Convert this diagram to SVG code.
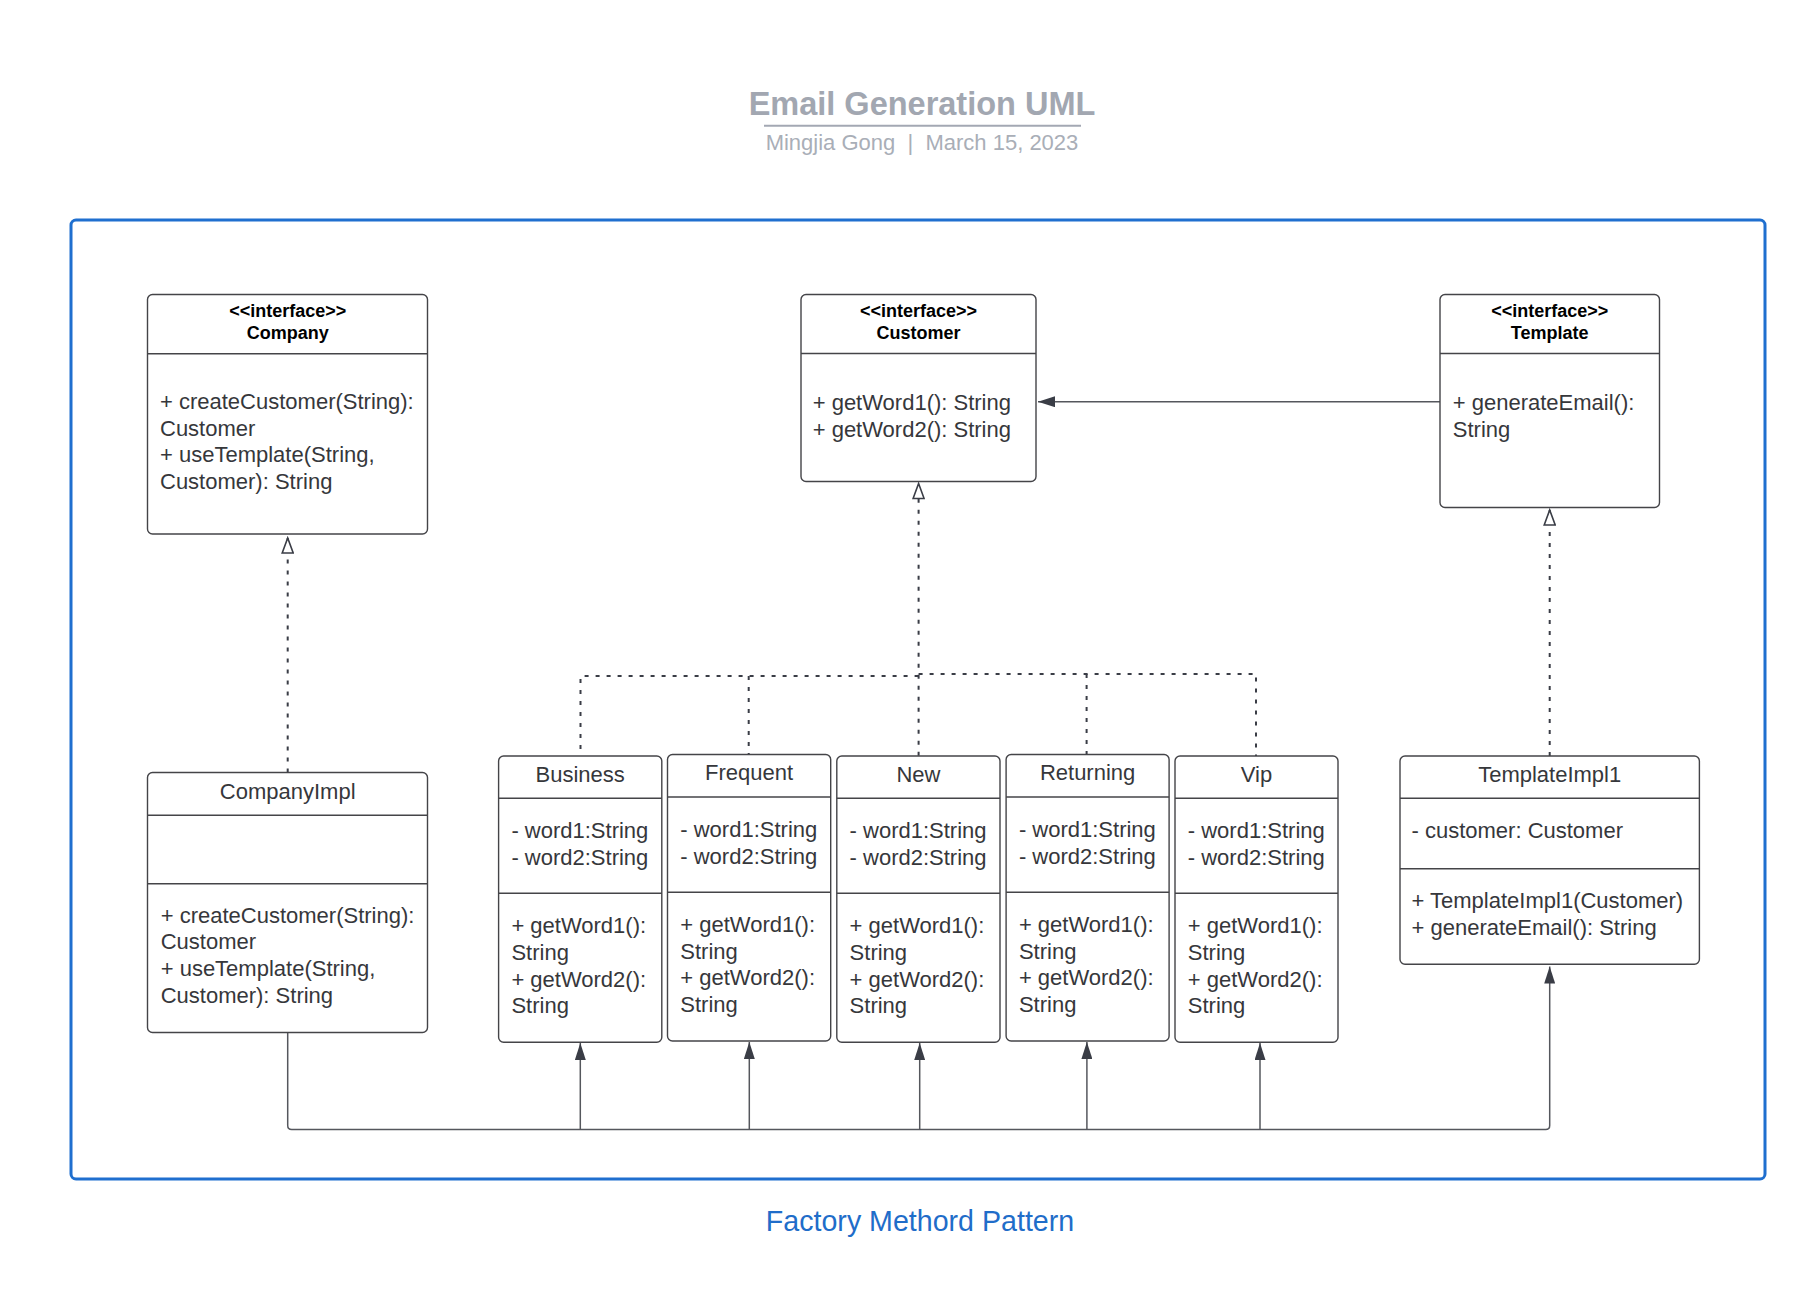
<svg xmlns="http://www.w3.org/2000/svg" width="1806" height="1296" viewBox="0 0 1806 1296">
<style>
.box{fill:#fff;stroke:#444448;stroke-width:1.4}
.sep{stroke:#444448;stroke-width:1.4}
.t{font-family:"Liberation Sans",Arial,sans-serif;font-size:22px;fill:#36373b}
.c{text-anchor:middle}
.h{font-family:"Liberation Sans",Arial,sans-serif;font-size:18px;font-weight:bold;fill:#000;text-anchor:middle}
.solid{fill:none;stroke:#55575d;stroke-width:1.5}
.dot{fill:none;stroke:#3a3d46;stroke-width:2;stroke-dasharray:4 7}
</style>
<defs>
<marker id="fa" viewBox="0 0 17 11" refX="17" refY="5.5" markerWidth="17" markerHeight="11" markerUnits="userSpaceOnUse" orient="auto"><path d="M0,0 L17,5.5 L0,11 Z" fill="#3a3d46"/></marker>
<marker id="ha" viewBox="-1 -1 18 13" refX="15" refY="5.5" markerWidth="18" markerHeight="13" markerUnits="userSpaceOnUse" orient="auto"><path d="M0,0 L15,5.5 L0,11 Z" fill="#fff" stroke="#3a3d46" stroke-width="1.6"/></marker>
</defs>
<rect width="1806" height="1296" fill="#fff"/>

<g id="title">
<text x="922" y="115" text-anchor="middle" font-family="Liberation Sans, Arial, sans-serif" font-size="32.5" font-weight="bold" fill="#a2a7b1">Email Generation UML</text>
<line x1="764" y1="125.7" x2="1081" y2="125.7" stroke="#a3a8b3" stroke-width="2"/>
<text x="922" y="150" text-anchor="middle" xml:space="preserve" font-family="Liberation Sans, Arial, sans-serif" font-size="22" fill="#a9aeb7">Mingjia Gong  |  March 15, 2023</text>
</g>

<g id="frame">
<rect x="71" y="220" width="1694" height="959" rx="5" fill="none" stroke="#1f6fcf" stroke-width="3"/>
<text x="920" y="1230.7" text-anchor="middle" font-family="Liberation Sans, Arial, sans-serif" font-size="28.6" fill="#1f6dc9">Factory Methord Pattern</text>
</g>

<g id="connectors">
<path class="dot" d="M287.7,772.5 V538" marker-end="url(#ha)"/>
<path class="dot" d="M918.6,755.7 V483.5" marker-end="url(#ha)"/>
<path class="dot" d="M918.6,676 H580.5 V755.7"/>
<path class="dot" d="M748.7,676 V754.3"/>
<path class="dot" d="M918.6,674 H1256 V756"/>
<path class="dot" d="M1086.6,674 V755"/>
<path class="dot" d="M1549.7,756 V510" marker-end="url(#ha)"/>
<path class="solid" d="M1440,401.7 H1038" marker-end="url(#fa)"/>
<path class="solid" d="M287.7,1032.7 V1125.5 Q287.7,1129.5 291.7,1129.5 H1545.7 Q1549.7,1129.5 1549.7,1125.5 V966.5" marker-end="url(#fa)"/>
<path class="solid" d="M580.3,1129.5 V1043" marker-end="url(#fa)"/>
<path class="solid" d="M749.3,1129.5 V1042" marker-end="url(#fa)"/>
<path class="solid" d="M919.7,1129.5 V1043" marker-end="url(#fa)"/>
<path class="solid" d="M1086.9,1129.5 V1042" marker-end="url(#fa)"/>
<path class="solid" d="M1260,1129.5 V1043" marker-end="url(#fa)"/>
</g>

<g id="Company">
<rect class="box" x="147.5" y="294.5" width="280" height="239.5" rx="5"/>
<line class="sep" x1="147.5" y1="353.7" x2="427.5" y2="353.7"/>
<text class="h" x="287.7" y="316.7">&lt;&lt;interface&gt;&gt;</text>
<text class="h" x="287.7" y="339.3">Company</text>
<text class="t" x="160" y="409">+ createCustomer(String):</text>
<text class="t" x="160" y="435.5">Customer</text>
<text class="t" x="160" y="462">+ useTemplate(String,</text>
<text class="t" x="160" y="488.5">Customer): String</text>
</g>

<g id="Customer">
<rect class="box" x="801" y="294.5" width="235" height="187" rx="5"/>
<line class="sep" x1="801" y1="353.5" x2="1036" y2="353.5"/>
<text class="h" x="918.5" y="316.7">&lt;&lt;interface&gt;&gt;</text>
<text class="h" x="918.5" y="339.3">Customer</text>
<text class="t" x="812.7" y="410">+ getWord1(): String</text>
<text class="t" x="812.7" y="436.7">+ getWord2(): String</text>
</g>

<g id="Template">
<rect class="box" x="1440" y="294.5" width="219.5" height="213" rx="5"/>
<line class="sep" x1="1440" y1="353.5" x2="1659.5" y2="353.5"/>
<text class="h" x="1549.7" y="316.7">&lt;&lt;interface&gt;&gt;</text>
<text class="h" x="1549.7" y="339.3">Template</text>
<text class="t" x="1452.8" y="410">+ generateEmail():</text>
<text class="t" x="1452.8" y="436.7">String</text>
</g>

<g id="CompanyImpl">
<rect class="box" x="147.5" y="772.5" width="280" height="260" rx="5"/>
<line class="sep" x1="147.5" y1="815.3" x2="427.5" y2="815.3"/>
<line class="sep" x1="147.5" y1="883.7" x2="427.5" y2="883.7"/>
<text class="t c" x="287.7" y="799">CompanyImpl</text>
<text class="t" x="160.7" y="922.7">+ createCustomer(String):</text>
<text class="t" x="160.7" y="949.3">Customer</text>
<text class="t" x="160.7" y="976.3">+ useTemplate(String,</text>
<text class="t" x="160.7" y="1003">Customer): String</text>
</g>

<g id="Business">
<rect class="box" x="498.6" y="756" width="163.2" height="286.3" rx="5"/>
<line class="sep" x1="498.6" y1="798.3" x2="661.8" y2="798.3"/>
<line class="sep" x1="498.6" y1="893.3" x2="661.8" y2="893.3"/>
<text class="t c" x="580.2" y="781.7">Business</text>
<text class="t" x="511.4" y="838.3">- word1:String</text>
<text class="t" x="511.4" y="865">- word2:String</text>
<text class="t" x="511.4" y="933.3">+ getWord1():</text>
<text class="t" x="511.4" y="960">String</text>
<text class="t" x="511.4" y="986.7">+ getWord2():</text>
<text class="t" x="511.4" y="1013.3">String</text>
</g>

<g id="Frequent">
<rect class="box" x="667.5" y="754.5" width="163.2" height="286.5" rx="5"/>
<line class="sep" x1="667.5" y1="797" x2="830.7" y2="797"/>
<line class="sep" x1="667.5" y1="892.3" x2="830.7" y2="892.3"/>
<text class="t c" x="749.1" y="780.4">Frequent</text>
<text class="t" x="680.3" y="837">- word1:String</text>
<text class="t" x="680.3" y="863.7">- word2:String</text>
<text class="t" x="680.3" y="932">+ getWord1():</text>
<text class="t" x="680.3" y="958.7">String</text>
<text class="t" x="680.3" y="985.4">+ getWord2():</text>
<text class="t" x="680.3" y="1012">String</text>
</g>

<g id="New">
<rect class="box" x="836.8" y="756" width="163.2" height="286.3" rx="5"/>
<line class="sep" x1="836.8" y1="798.3" x2="1000" y2="798.3"/>
<line class="sep" x1="836.8" y1="893.3" x2="1000" y2="893.3"/>
<text class="t c" x="918.4" y="781.7">New</text>
<text class="t" x="849.6" y="838.3">- word1:String</text>
<text class="t" x="849.6" y="865">- word2:String</text>
<text class="t" x="849.6" y="933.3">+ getWord1():</text>
<text class="t" x="849.6" y="960">String</text>
<text class="t" x="849.6" y="986.7">+ getWord2():</text>
<text class="t" x="849.6" y="1013.3">String</text>
</g>

<g id="Returning">
<rect class="box" x="1006.1" y="754.5" width="163" height="286.5" rx="5"/>
<line class="sep" x1="1006.1" y1="797" x2="1169.1" y2="797"/>
<line class="sep" x1="1006.1" y1="892.3" x2="1169.1" y2="892.3"/>
<text class="t c" x="1087.6" y="780.4">Returning</text>
<text class="t" x="1018.9" y="837">- word1:String</text>
<text class="t" x="1018.9" y="863.7">- word2:String</text>
<text class="t" x="1018.9" y="932">+ getWord1():</text>
<text class="t" x="1018.9" y="958.7">String</text>
<text class="t" x="1018.9" y="985.4">+ getWord2():</text>
<text class="t" x="1018.9" y="1012">String</text>
</g>

<g id="Vip">
<rect class="box" x="1175" y="756" width="163" height="286.3" rx="5"/>
<line class="sep" x1="1175" y1="798.3" x2="1338" y2="798.3"/>
<line class="sep" x1="1175" y1="893.3" x2="1338" y2="893.3"/>
<text class="t c" x="1256.5" y="781.7">Vip</text>
<text class="t" x="1187.8" y="838.3">- word1:String</text>
<text class="t" x="1187.8" y="865">- word2:String</text>
<text class="t" x="1187.8" y="933.3">+ getWord1():</text>
<text class="t" x="1187.8" y="960">String</text>
<text class="t" x="1187.8" y="986.7">+ getWord2():</text>
<text class="t" x="1187.8" y="1013.3">String</text>
</g>

<g id="TemplateImpl1">
<rect class="box" x="1400" y="756" width="299.4" height="208.3" rx="5"/>
<line class="sep" x1="1400" y1="798.3" x2="1699.4" y2="798.3"/>
<line class="sep" x1="1400" y1="868.7" x2="1699.4" y2="868.7"/>
<text class="t c" x="1549.7" y="781.7">TemplateImpl1</text>
<text class="t" x="1411.5" y="838.3">- customer: Customer</text>
<text class="t" x="1411.5" y="908.3">+ TemplateImpl1(Customer)</text>
<text class="t" x="1411.5" y="935">+ generateEmail(): String</text>
</g>
</svg>
